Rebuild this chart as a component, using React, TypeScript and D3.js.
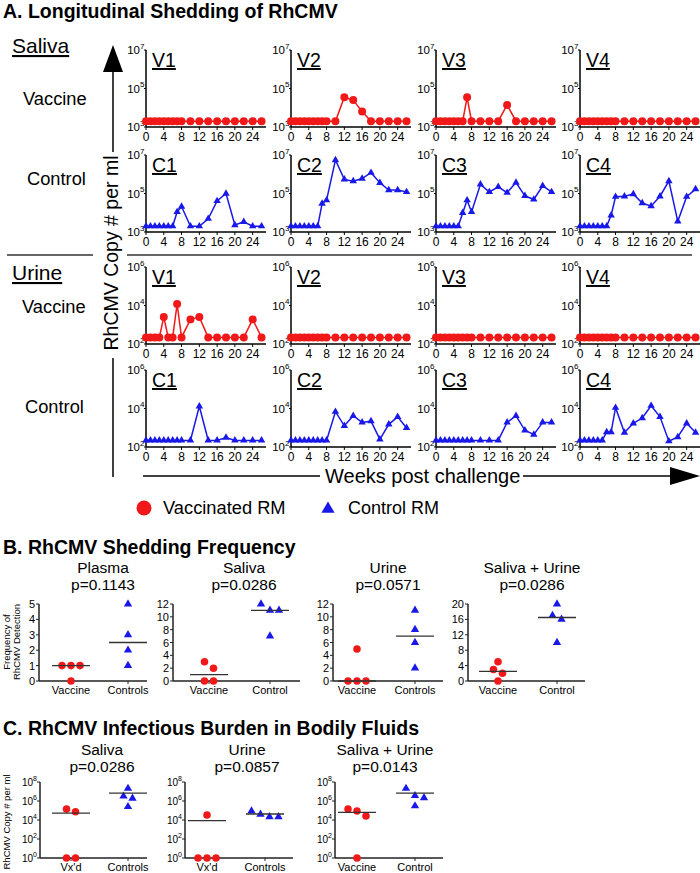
import React from "react";
import * as d3 from "d3";

const FONT = "'Liberation Sans', Arial, Helvetica, sans-serif";
const RED = "#f01818";
const BLUE = "#1818e8";

// ---------------- Panel A data ----------------
const weeks = [0, 1, 2, 3, 4, 5, 6, 7, 8, 10, 12, 14, 16, 18, 20, 22, 24, 26];
const weekTicks = [0, 4, 8, 12, 16, 20, 24];
const salivaTicks = [1e3, 1e5, 1e7];
const urineTicks = [1e2, 1e4, 1e6];
const vaccineNames = ["V1", "V2", "V3", "V4"];
const controlNames = ["C1", "C2", "C3", "C4"];

// RhCMV copy # per ml (saliva)
const salivaV1 = [2000, 2000, 2000, 2000, 2000, 2000, 2000, 2000, 2000, 2000, 2000, 2000, 2000, 2000, 2000, 2000, 2000, 2000];
const salivaV2 = [2000, 2000, 2000, 2000, 2000, 2000, 2000, 2000, 2000, 2000, 35000, 25000, 6300, 2000, 2000, 2000, 2000, 2000];
const salivaV3 = [2000, 2000, 2000, 2000, 2000, 2000, 2000, 35000, 2000, 2000, 2000, 2000, 14000, 2000, 2000, 2000, 2000, 2000];
const salivaV4 = [2000, 2000, 2000, 2000, 2000, 2000, 2000, 2000, 2000, 2000, 2000, 2000, 2000, 2000, 2000, 2000, 2000, 2000];
const salivaC1 = [2000, 2000, 2000, 2000, 2000, 2000, 2000, 11000, 21000, 2000, 2000, 4900, 41000, 100000, 2300, 3400, 2000, 2000];
const salivaC2 = [2000, 2000, 2000, 2000, 2000, 2000, 2000, 30000, 45000, 5500000, 540000, 440000, 600000, 1200000, 360000, 150000, 150000, 120000];
const salivaC3 = [2000, 2000, 2000, 2000, 2000, 2000, 9800, 45000, 11000, 300000, 120000, 220000, 110000, 370000, 76000, 49000, 250000, 120000];
const salivaC4 = [2000, 2000, 2000, 2000, 2000, 2000, 2000, 7400, 68000, 72000, 93000, 32000, 22000, 72000, 440000, 3600, 68000, 170000];

// RhCMV copy # per ml (urine)
const urineV1 = [220, 220, 220, 220, 2500, 220, 220, 12000, 220, 1900, 2500, 220, 220, 220, 220, 220, 1900, 220];
const urineV2 = [220, 220, 220, 220, 220, 220, 220, 220, 220, 220, 220, 220, 220, 220, 220, 220, 220, 220];
const urineV3 = [220, 220, 220, 220, 220, 220, 220, 220, 220, 220, 220, 220, 220, 220, 220, 220, 220, 220];
const urineV4 = [220, 220, 220, 220, 220, 220, 220, 220, 220, 220, 220, 220, 220, 220, 220, 220, 220, 220];
const urineC1 = [220, 220, 220, 220, 220, 220, 220, 220, 220, 220, 13000, 220, 220, 310, 220, 220, 220, 220];
const urineC2 = [220, 220, 220, 220, 220, 220, 220, 220, 220, 6800, 1260, 4200, 1900, 2200, 250, 1500, 3700, 980];
const urineC3 = [220, 220, 220, 220, 220, 220, 220, 220, 220, 220, 220, 220, 1900, 4200, 740, 440, 1900, 1900];
const urineC4 = [220, 220, 220, 220, 220, 220, 600, 600, 11000, 560, 1700, 3200, 14000, 3700, 200, 330, 1700, 560];

// ---------------- Panel B data ----------------
const plasmaFreqVaccine = [1, 1, 1, 0];
const plasmaFreqControl = [5, 3, 2, 1];
const salivaFreqVaccine = [3, 2, 0, 0];
const salivaFreqControl = [11, 11, 12, 7];
const urineFreqVaccine = [5, 0, 0, 0];
const urineFreqControl = [11, 8, 6, 2];
const bothFreqVaccine = [5, 2, 3, 0];
const bothFreqControl = [20, 17, 16, 10];
const freqTicks5 = [0, 1, 2, 3, 4, 5];
const freqTicks12 = [0, 2, 4, 6, 8, 10, 12];
const freqTicks20 = [0, 4, 8, 12, 16, 20];

// ---------------- Panel C data ----------------
const salivaBurdenVx = [140000, 75000, 1, 1];
const salivaBurdenControl = [21000000, 1900000, 3200000, 250000];
const urineBurdenVx = [34000, 1, 1, 1];
const urineBurdenControl = [40000, 22000, 22000, 87000];
const bothBurdenVx = [87000, 26000, 145000, 1];
const bothBurdenControl = [21000000, 2200000, 3600000, 300000];
const burdenTicks = [1, 1e2, 1e4, 1e6, 1e8];

// ---------------- helpers ----------------
function Pow({ x, y, exp, size }: any) {
  return (
    <text x={x} y={y} textAnchor="end" fontSize={size} fill="#000">
      10
      <tspan dy={-size * 0.45} fontSize={size * 0.7}>
        {exp}
      </tspan>
    </text>
  );
}

function Marker({ shape, x, y, color, size }: any) {
  if (shape === "circle") return <circle cx={x} cy={y} r={Math.sqrt(size / Math.PI)} fill={color} />;
  const p = d3.symbol().type(d3.symbolTriangle).size(size)();
  return <path d={p as string} transform={`translate(${x},${y})`} fill={color} />;
}

const PW = 120;
const PH = 77;

function MiniPlot({ x0, top, values, name, domain, ticks, color, shape }: any) {
  const bottom = top + PH;
  const x = d3.scaleLinear().domain([0, 27]).range([x0, x0 + PW]);
  const y = d3.scaleLog().domain(domain).range([bottom, top]);
  const line = d3
    .line<number>()
    .x((_, i) => x(weeks[i]))
    .y((v) => y(v));
  return (
    <g>
      <line x1={x0} x2={x0} y1={top} y2={bottom} stroke="#000" strokeWidth={1.5} />
      <line x1={x0} x2={x0 + PW} y1={bottom} y2={bottom} stroke="#000" strokeWidth={1.5} />
      {weekTicks.map((t) => (
        <g key={t}>
          <line x1={x(t)} x2={x(t)} y1={bottom} y2={bottom + 3} stroke="#000" strokeWidth={1} />
          <text x={x(t)} y={bottom + 13.5} textAnchor="middle" fontSize={12}>
            {t}
          </text>
        </g>
      ))}
      {ticks.map((t: number) => (
        <g key={t}>
          <line x1={x0 - 2} x2={x0} y1={y(t)} y2={y(t)} stroke="#000" strokeWidth={1} />
          <Pow x={x0 - 1.5} y={y(t) + 4} exp={Math.round(Math.log10(t))} size={11.5} />
        </g>
      ))}
      <text x={x0 + 6} y={top + 17} fontSize={19.5} textDecoration="underline">
        {name}
      </text>
      <path d={line(values) as string} fill="none" stroke={color} strokeWidth={1.5} />
      {values.map((v: number, i: number) => (
        <Marker key={i} shape={shape} x={x(weeks[i])} y={y(v)} color={color} size={shape === "circle" ? 50 : 24} />
      ))}
    </g>
  );
}

function dodge(values: number[], py: (v: number) => number, thr = 7.5, spacing = 9) {
  const idx = values.map((_, i) => i).sort((a, b) => values[b] - values[a]);
  const offsets = values.map(() => 0);
  const clusters: number[][] = [];
  let cur = [idx[0]];
  for (let k = 1; k < idx.length; k++) {
    if (Math.abs(py(values[idx[k]]) - py(values[cur[cur.length - 1]])) < thr) cur.push(idx[k]);
    else {
      clusters.push(cur);
      cur = [idx[k]];
    }
  }
  clusters.push(cur);
  clusters.forEach((c) => c.forEach((i, j) => (offsets[i] = (j - (c.length - 1) / 2) * spacing)));
  return offsets;
}

function ScatterPanel({ axisX, axisEnd, y, ticks, tickNode, groups, stat, title, pval, titleX, titleY, catY }: any) {
  const [y0, y1] = y.range();
  return (
    <g>
      <text x={titleX} y={titleY} textAnchor="middle" fontSize={15.5}>
        {title}
      </text>
      <text x={titleX} y={titleY + 17} textAnchor="middle" fontSize={15.5}>
        {pval}
      </text>
      <line x1={axisX} x2={axisX} y1={y1} y2={y0} stroke="#222" strokeWidth={1.5} />
      <line x1={axisX} x2={axisEnd} y1={y0} y2={y0} stroke="#222" strokeWidth={1.5} />
      {ticks.map((t: number) => (
        <g key={t}>
          <line x1={axisX - 3} x2={axisX} y1={y(t)} y2={y(t)} stroke="#222" strokeWidth={1} />
          {tickNode(t, axisX - 4, y(t))}
        </g>
      ))}
      {groups.map((g: any, gi: number) => {
        const off = dodge(g.values, (v) => y(v));
        const s = stat(g.values);
        return (
          <g key={gi}>
            <line x1={g.cx} x2={g.cx} y1={y0} y2={y0 + 3} stroke="#222" strokeWidth={1} />
            <text x={g.cx} y={catY} textAnchor="middle" fontSize={11}>
              {g.label}
            </text>
            {g.values.map((v: number, i: number) => (
              <Marker key={i} shape={g.shape} x={g.cx + off[i]} y={y(v)} color={g.color} size={g.shape === "circle" ? 45 : 30} />
            ))}
            <line x1={g.cx - 19} x2={g.cx + 19} y1={y(s)} y2={y(s)} stroke="#333" strokeWidth={1.3} />
          </g>
        );
      })}
    </g>
  );
}

const colX = [146, 291, 436, 580];

export default function App() {
  const rows = [
    { top: 50, domain: [1e3, 1e7], ticks: salivaTicks, series: [salivaV1, salivaV2, salivaV3, salivaV4], names: vaccineNames, color: RED, shape: "circle" },
    { top: 155, domain: [1e3, 1e7], ticks: salivaTicks, series: [salivaC1, salivaC2, salivaC3, salivaC4], names: controlNames, color: BLUE, shape: "triangle" },
    { top: 267, domain: [1e2, 1e6], ticks: urineTicks, series: [urineV1, urineV2, urineV3, urineV4], names: vaccineNames, color: RED, shape: "circle" },
    { top: 370, domain: [1e2, 1e6], ticks: urineTicks, series: [urineC1, urineC2, urineC3, urineC4], names: controlNames, color: BLUE, shape: "triangle" },
  ];

  const freqTick = (t: number, x: number, yy: number) => (
    <text x={x} y={yy + 4} textAnchor="end" fontSize={11}>
      {t}
    </text>
  );
  const powTick = (t: number, x: number, yy: number) => <Pow x={x + 1} y={yy + 3.5} exp={Math.round(Math.log10(t))} size={10} />;

  const yB = (max: number) => d3.scaleLinear().domain([0, max]).range([681, 604]);
  const yC = d3.scaleLog().domain([1, 1e8]).range([858, 782]);
  const med = (v: number[]) => d3.median(v) as number;
  const mean = (v: number[]) => d3.mean(v) as number;

  const tri = d3.symbol().type(d3.symbolTriangle).size(75)();

  const bPanels = [
    { axisX: 39, axisEnd: 147, cats: [71, 128], max: 5, ticks: freqTicks5, v: plasmaFreqVaccine, c: plasmaFreqControl, labels: ["Vaccine", "Controls"], title: "Plasma", p: "p=0.1143", tx: 103 },
    { axisX: 173, axisEnd: 300, cats: [209, 270], max: 12, ticks: freqTicks12, v: salivaFreqVaccine, c: salivaFreqControl, labels: ["Vaccine", "Control"], title: "Saliva", p: "p=0.0286", tx: 244 },
    { axisX: 333, axisEnd: 443, cats: [357, 415], max: 12, ticks: freqTicks12, v: urineFreqVaccine, c: urineFreqControl, labels: ["Vaccine", "Controls"], title: "Urine", p: "p=0.0571", tx: 388 },
    { axisX: 468, axisEnd: 585, cats: [498, 557], max: 20, ticks: freqTicks20, v: bothFreqVaccine, c: bothFreqControl, labels: ["Vaccine", "Control"], title: "Saliva + Urine", p: "p=0.0286", tx: 532 },
  ];
  const cPanels = [
    { axisX: 40, axisEnd: 147, cats: [71, 128], v: salivaBurdenVx, c: salivaBurdenControl, labels: ["Vx'd", "Controls"], title: "Saliva", p: "p=0.0286", tx: 102 },
    { axisX: 185, axisEnd: 293, cats: [207, 265], v: urineBurdenVx, c: urineBurdenControl, labels: ["Vx'd", "Controls"], title: "Urine", p: "p=0.0857", tx: 247 },
    { axisX: 335, axisEnd: 443, cats: [357, 415], v: bothBurdenVx, c: bothBurdenControl, labels: ["Vaccine", "Control"], title: "Saliva + Urine", p: "p=0.0143", tx: 385 },
  ];

  return (
    <svg width={700} height={873} style={{ position: "absolute", left: 0, top: 0, background: "#fff" }} fontFamily={FONT}>
      {/* ---------- Panel A ---------- */}
      <text x={3} y={18} fontSize={19.5} fontWeight="bold">
        A. Longitudinal Shedding of RhCMV
      </text>
      <text x={12} y={53} fontSize={21} textDecoration="underline">
        Saliva
      </text>
      <text x={23} y={105} fontSize={18.3}>
        Vaccine
      </text>
      <text x={27} y={185} fontSize={18.3}>
        Control
      </text>
      <text x={12} y={280} fontSize={21} textDecoration="underline">
        Urine
      </text>
      <text x={22} y={313} fontSize={18.3}>
        Vaccine
      </text>
      <text x={25} y={413} fontSize={18.3}>
        Control
      </text>
      <line x1={7} x2={93} y1={255} y2={255} stroke="#333" strokeWidth={1.5} />
      <line x1={127} x2={692} y1={255} y2={255} stroke="#333" strokeWidth={1.5} />

      {/* vertical arrow + label */}
      <line x1={113} x2={113} y1={70} y2={152} stroke="#000" strokeWidth={1.5} />
      <line x1={113} x2={113} y1={358} y2={477} stroke="#000" strokeWidth={1.5} />
      <path d="M103,72 L113,45 L123,72 Z" fill="#000" />
      <text transform="translate(118,253) rotate(-90)" textAnchor="middle" fontSize={19.5}>
        RhCMV Copy # per ml
      </text>

      {/* horizontal arrow + label */}
      <line x1={143} x2={320} y1={476} y2={476} stroke="#000" strokeWidth={1.5} />
      <line x1={523} x2={672} y1={476} y2={476} stroke="#000" strokeWidth={1.5} />
      <path d="M670,467 L700,476 L670,485 Z" fill="#000" />
      <text x={325} y={483} fontSize={20}>
        Weeks post challenge
      </text>

      {rows.map((r, ri) =>
        r.series.map((s, ci) => (
          <MiniPlot key={`${ri}-${ci}`} x0={colX[ci]} top={r.top} values={s} name={r.names[ci]} domain={r.domain} ticks={r.ticks} color={r.color} shape={r.shape} />
        ))
      )}

      {/* legend */}
      <circle cx={144} cy={508} r={7.5} fill={RED} />
      <text x={163} y={514} fontSize={18.3}>
        Vaccinated RM
      </text>
      <path d={tri as string} transform="translate(328,509)" fill={BLUE} />
      <text x={348} y={514} fontSize={18}>
        Control RM
      </text>

      {/* ---------- Panel B ---------- */}
      <text x={3} y={554} fontSize={19.5} fontWeight="bold">
        B. RhCMV Shedding Frequency
      </text>
      <text transform="translate(10,642) rotate(-90)" textAnchor="middle" fontSize={9.5}>
        Frequency of
      </text>
      <text transform="translate(20,642) rotate(-90)" textAnchor="middle" fontSize={9.5}>
        RhCMV Detection
      </text>
      {bPanels.map((b, i) => (
        <ScatterPanel
          key={i}
          axisX={b.axisX}
          axisEnd={b.axisEnd}
          y={yB(b.max)}
          ticks={b.ticks}
          tickNode={freqTick}
          stat={med}
          title={b.title}
          pval={b.p}
          titleX={b.tx}
          titleY={573}
          catY={694}
          groups={[
            { values: b.v, cx: b.cats[0], color: RED, shape: "circle", label: b.labels[0] },
            { values: b.c, cx: b.cats[1], color: BLUE, shape: "triangle", label: b.labels[1] },
          ]}
        />
      ))}

      {/* ---------- Panel C ---------- */}
      <text x={3} y={735} fontSize={19.5} fontWeight="bold">
        C. RhCMV Infectious Burden in Bodily Fluids
      </text>
      <text transform="translate(10,822) rotate(-90)" textAnchor="middle" fontSize={9.5}>
        RhCMV Copy # per ml
      </text>
      {cPanels.map((b, i) => (
        <ScatterPanel
          key={i}
          axisX={b.axisX}
          axisEnd={b.axisEnd}
          y={yC}
          ticks={burdenTicks}
          tickNode={powTick}
          stat={mean}
          title={b.title}
          pval={b.p}
          titleX={b.tx}
          titleY={755}
          catY={871}
          groups={[
            { values: b.v, cx: b.cats[0], color: RED, shape: "circle", label: b.labels[0] },
            { values: b.c, cx: b.cats[1], color: BLUE, shape: "triangle", label: b.labels[1] },
          ]}
        />
      ))}
    </svg>
  );
}
